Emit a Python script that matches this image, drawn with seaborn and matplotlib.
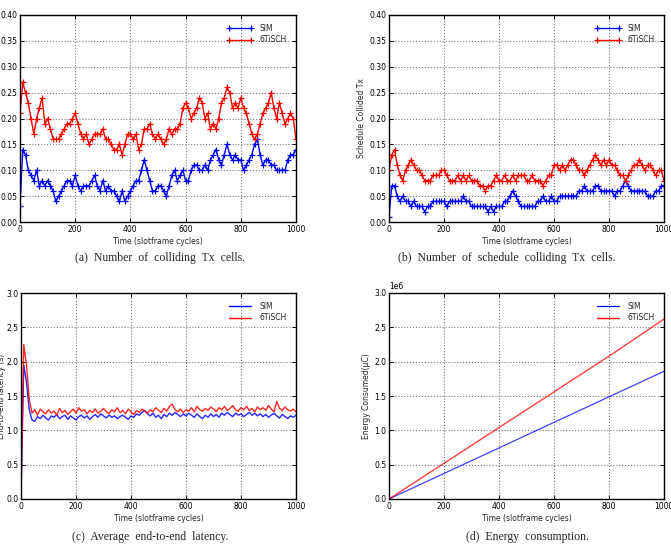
import numpy as np
import matplotlib
matplotlib.use('Agg')
import matplotlib.pyplot as plt
import seaborn as sns

# time axis, sampled every 10 slotframe cycles
t = np.arange(0, 1001, 10)

# (a) colliding Tx cells
coll_sim = [0.03, 0.14, 0.13, 0.10, 0.09, 0.08, 0.10, 0.07, 0.08, 0.07,
            0.08, 0.07, 0.06, 0.04, 0.05, 0.06, 0.07, 0.08, 0.08, 0.07,
            0.09, 0.07, 0.06, 0.07, 0.07, 0.07, 0.08, 0.09, 0.07, 0.06,
            0.08, 0.06, 0.07, 0.06, 0.06, 0.05, 0.04, 0.06, 0.04, 0.05,
            0.06, 0.07, 0.08, 0.08, 0.10, 0.12, 0.10, 0.08, 0.06, 0.06,
            0.07, 0.07, 0.06, 0.05, 0.07, 0.09, 0.10, 0.08, 0.09, 0.10,
            0.08, 0.08, 0.10, 0.11, 0.11, 0.10, 0.10, 0.11, 0.10, 0.12,
            0.13, 0.14, 0.12, 0.11, 0.13, 0.15, 0.13, 0.12, 0.13, 0.12,
            0.12, 0.10, 0.11, 0.12, 0.13, 0.15, 0.16, 0.13, 0.11, 0.12,
            0.12, 0.11, 0.11, 0.10, 0.10, 0.10, 0.10, 0.12, 0.13, 0.13, 0.14]
coll_6tisch = [0.21, 0.27, 0.25, 0.23, 0.20, 0.17, 0.20, 0.22, 0.24, 0.19,
               0.20, 0.18, 0.16, 0.16, 0.16, 0.17, 0.18, 0.19, 0.19, 0.20,
               0.21, 0.19, 0.17, 0.16, 0.17, 0.15, 0.16, 0.17, 0.17, 0.17,
               0.18, 0.16, 0.16, 0.15, 0.14, 0.14, 0.15, 0.13, 0.15, 0.17,
               0.17, 0.16, 0.17, 0.14, 0.15, 0.18, 0.18, 0.19, 0.17, 0.16,
               0.17, 0.16, 0.15, 0.16, 0.18, 0.17, 0.18, 0.18, 0.19, 0.22,
               0.23, 0.22, 0.20, 0.21, 0.22, 0.24, 0.23, 0.20, 0.21, 0.18,
               0.19, 0.18, 0.20, 0.23, 0.24, 0.26, 0.25, 0.22, 0.23, 0.22,
               0.24, 0.22, 0.21, 0.19, 0.17, 0.16, 0.17, 0.19, 0.21, 0.22,
               0.23, 0.25, 0.22, 0.20, 0.23, 0.21, 0.19, 0.20, 0.21, 0.20, 0.16]

# (b) schedule colliding Tx cells
sched_sim = [0.01, 0.07, 0.07, 0.05, 0.04, 0.05, 0.04, 0.04, 0.03, 0.04,
             0.03, 0.03, 0.03, 0.02, 0.03, 0.03, 0.04, 0.04, 0.04, 0.04,
             0.04, 0.03, 0.04, 0.04, 0.04, 0.04, 0.04, 0.05, 0.04, 0.04,
             0.03, 0.03, 0.03, 0.03, 0.03, 0.03, 0.02, 0.03, 0.02, 0.03,
             0.03, 0.03, 0.04, 0.04, 0.05, 0.06, 0.05, 0.04, 0.03, 0.03,
             0.03, 0.03, 0.03, 0.03, 0.04, 0.04, 0.05, 0.04, 0.04, 0.05,
             0.04, 0.04, 0.05, 0.05, 0.05, 0.05, 0.05, 0.05, 0.05, 0.06,
             0.06, 0.07, 0.06, 0.06, 0.06, 0.07, 0.07, 0.06, 0.06, 0.06,
             0.06, 0.06, 0.05, 0.06, 0.06, 0.07, 0.08, 0.07, 0.06, 0.06,
             0.06, 0.06, 0.06, 0.06, 0.05, 0.05, 0.05, 0.06, 0.06, 0.07, 0.07]
sched_6tisch = [0.10, 0.13, 0.14, 0.11, 0.09, 0.08, 0.10, 0.11, 0.12, 0.11,
                0.10, 0.10, 0.09, 0.08, 0.08, 0.08, 0.09, 0.09, 0.09, 0.10,
                0.10, 0.09, 0.08, 0.08, 0.08, 0.09, 0.08, 0.09, 0.08, 0.09,
                0.08, 0.08, 0.08, 0.07, 0.07, 0.06, 0.07, 0.07, 0.08, 0.09,
                0.08, 0.08, 0.09, 0.08, 0.08, 0.09, 0.08, 0.09, 0.09, 0.09,
                0.08, 0.08, 0.09, 0.08, 0.08, 0.08, 0.07, 0.08, 0.09, 0.09,
                0.11, 0.11, 0.10, 0.11, 0.10, 0.11, 0.12, 0.12, 0.11, 0.10,
                0.10, 0.09, 0.10, 0.11, 0.12, 0.13, 0.12, 0.11, 0.12, 0.11,
                0.12, 0.11, 0.11, 0.10, 0.09, 0.09, 0.08, 0.09, 0.10, 0.11,
                0.11, 0.12, 0.11, 0.10, 0.11, 0.11, 0.10, 0.09, 0.10, 0.10, 0.08]

# (c) average end-to-end latency (s)
lat_sim = [0.05, 1.95, 1.70, 1.30, 1.15, 1.13, 1.20, 1.17, 1.22, 1.18,
           1.15, 1.21, 1.19, 1.23, 1.17, 1.20, 1.22, 1.16, 1.21, 1.18,
           1.15, 1.20, 1.22, 1.18, 1.21, 1.16, 1.20, 1.23, 1.19, 1.24,
           1.21, 1.18, 1.22, 1.19, 1.21, 1.17, 1.20, 1.22, 1.19, 1.16,
           1.21, 1.19, 1.24, 1.22, 1.26, 1.29, 1.24, 1.21, 1.25, 1.19,
           1.22, 1.17, 1.23, 1.20, 1.25, 1.22, 1.26, 1.23, 1.20, 1.24,
           1.21, 1.25, 1.22, 1.19, 1.24, 1.20, 1.17, 1.22, 1.19, 1.24,
           1.20, 1.23, 1.19, 1.25, 1.22, 1.26, 1.23, 1.20, 1.25, 1.22,
           1.24, 1.20, 1.23, 1.26, 1.22, 1.25, 1.21, 1.24, 1.20, 1.23,
           1.19, 1.22, 1.25, 1.21, 1.18, 1.23, 1.20, 1.17, 1.21, 1.19, 1.22]
lat_6tisch = [0.05, 2.25, 1.95, 1.45, 1.25, 1.30, 1.22, 1.31, 1.27, 1.24,
              1.30, 1.25, 1.28, 1.22, 1.32, 1.26, 1.29, 1.23, 1.27, 1.31,
              1.25, 1.33, 1.28, 1.30, 1.24, 1.29, 1.26, 1.31, 1.25, 1.28,
              1.32, 1.27, 1.24, 1.30, 1.27, 1.33, 1.26, 1.29, 1.24, 1.31,
              1.27, 1.23, 1.29, 1.26, 1.31, 1.28, 1.25, 1.30, 1.27, 1.33,
              1.29, 1.26, 1.32, 1.28, 1.35, 1.38, 1.30, 1.27, 1.31, 1.26,
              1.30, 1.28, 1.33, 1.27, 1.35, 1.30, 1.28, 1.32, 1.29, 1.34,
              1.31, 1.27, 1.33, 1.30, 1.35, 1.29, 1.32, 1.36, 1.30, 1.28,
              1.33, 1.30, 1.35, 1.29, 1.32, 1.27, 1.34, 1.30, 1.33, 1.29,
              1.36, 1.31, 1.27, 1.42, 1.32, 1.29, 1.34, 1.30, 1.28, 1.31, 1.27]

# (d) energy consumption (uC)
t_energy = [0, 200, 400, 600, 800, 1000]
energy_sim = [0, 0.372e6, 0.744e6, 1.116e6, 1.488e6, 1.86e6]
energy_6tisch = [0, 0.52e6, 1.04e6, 1.56e6, 2.08e6, 2.62e6]

sns.set_style('white', {
    'axes.edgecolor': 'black',
    'axes.grid': True,
    'grid.color': '#777777',
    'grid.linestyle': ':',
    'xtick.direction': 'in',
    'ytick.direction': 'in',
    'xtick.top': True,
    'ytick.right': True,
    'xtick.bottom': True,
    'ytick.left': True,
})
plt.rcParams['font.family'] = ['DejaVu Sans']
plt.rcParams['grid.linewidth'] = 0.8
plt.rcParams['axes.linewidth'] = 1.0

W, H = 671, 552
fig = plt.figure(figsize=(W / 100, H / 100), dpi=100)


def make_ax(left, top, right, bottom):
    return fig.add_axes([left / W, 1 - bottom / H, (right - left) / W, (bottom - top) / H])


ax_a = make_ax(20, 15, 296, 222)
ax_b = make_ax(389, 15, 664, 222)
ax_c = make_ax(21, 293, 296, 499)
ax_d = make_ax(389, 293, 664, 499)

fs = 5.5
mk = dict(marker='+', markersize=4, markeredgewidth=0.9, linewidth=1.0)

sns.lineplot(x=t, y=coll_sim, ax=ax_a, color='b', mec='b', label='SIM', **mk)
sns.lineplot(x=t, y=coll_6tisch, ax=ax_a, color='r', mec='r', label='6TiSCH', **mk)
sns.lineplot(x=t, y=sched_sim, ax=ax_b, color='b', mec='b', label='SIM', **mk)
sns.lineplot(x=t, y=sched_6tisch, ax=ax_b, color='r', mec='r', label='6TiSCH', **mk)
sns.lineplot(x=t, y=lat_sim, ax=ax_c, color='b', label='SIM', linewidth=1.0, alpha=0.85)
sns.lineplot(x=t, y=lat_6tisch, ax=ax_c, color='r', label='6TiSCH', linewidth=1.0, alpha=0.85)
sns.lineplot(x=t_energy, y=energy_sim, ax=ax_d, color='b', label='SIM', linewidth=0.9, alpha=0.75)
sns.lineplot(x=t_energy, y=energy_6tisch, ax=ax_d, color='r', label='6TiSCH', linewidth=1.0, alpha=0.75)

for ax in (ax_a, ax_b):
    ax.set_ylim(0, 0.40)
    ax.set_yticks(np.arange(0, 0.41, 0.05))
    ax.set_yticklabels(['%.2f' % v for v in np.arange(0, 0.41, 0.05)])
ax_c.set_ylim(0, 3.0)
ax_c.set_yticks(np.arange(0, 3.01, 0.5))
ax_c.set_yticklabels(['%.1f' % v for v in np.arange(0, 3.01, 0.5)])
ax_d.set_ylim(0, 3.0e6)
ax_d.set_yticks(np.arange(0, 3.01e6, 0.5e6))
ax_d.ticklabel_format(axis='y', style='sci', scilimits=(0, 0))
ax_d.yaxis.get_offset_text().set_fontsize(fs)

for ax in (ax_a, ax_b, ax_c, ax_d):
    ax.set_xlim(0, 1000)
    ax.set_xticks([0, 200, 400, 600, 800, 1000])
    ax.tick_params(labelsize=fs, length=3, width=0.7, pad=2, colors='black')
    ax.set_xlabel('Time (slotframe cycles)', fontsize=fs, labelpad=2)
    ax.set_ylabel('')
    for s in ax.spines.values():
        s.set_color('black')
    leg = ax.legend(loc='upper right', fontsize=fs, frameon=False, numpoints=2,
                    handlelength=3.5, borderaxespad=0.8, labelspacing=0.3)
    for h in leg.legend_handles:
        h.set_alpha(1)

ax_b.set_ylabel('Schedule Collided Tx', fontsize=fs, labelpad=2)
ax_d.set_ylabel('Energy Consumed(μC)', fontsize=fs, labelpad=2)
fig.text(2 / W, 1 - 396 / H, 'End-to-end latency (s)', rotation=90, fontsize=fs,
         ha='center', va='center')

cap = dict(fontsize=8.5, family='Liberation Serif', ha='center', va='center')
fig.text(160 / W, 1 - 258 / H, '(a)  Number  of  colliding  Tx  cells.', **cap)
fig.text(507 / W, 1 - 258 / H, '(b)  Number  of  schedule  colliding  Tx  cells.', **cap)
fig.text(150 / W, 1 - 537 / H, '(c)  Average  end-to-end  latency.', **cap)
fig.text(527 / W, 1 - 537 / H, '(d)  Energy  consumption.', **cap)

fig.savefig('out.png', dpi=100)
